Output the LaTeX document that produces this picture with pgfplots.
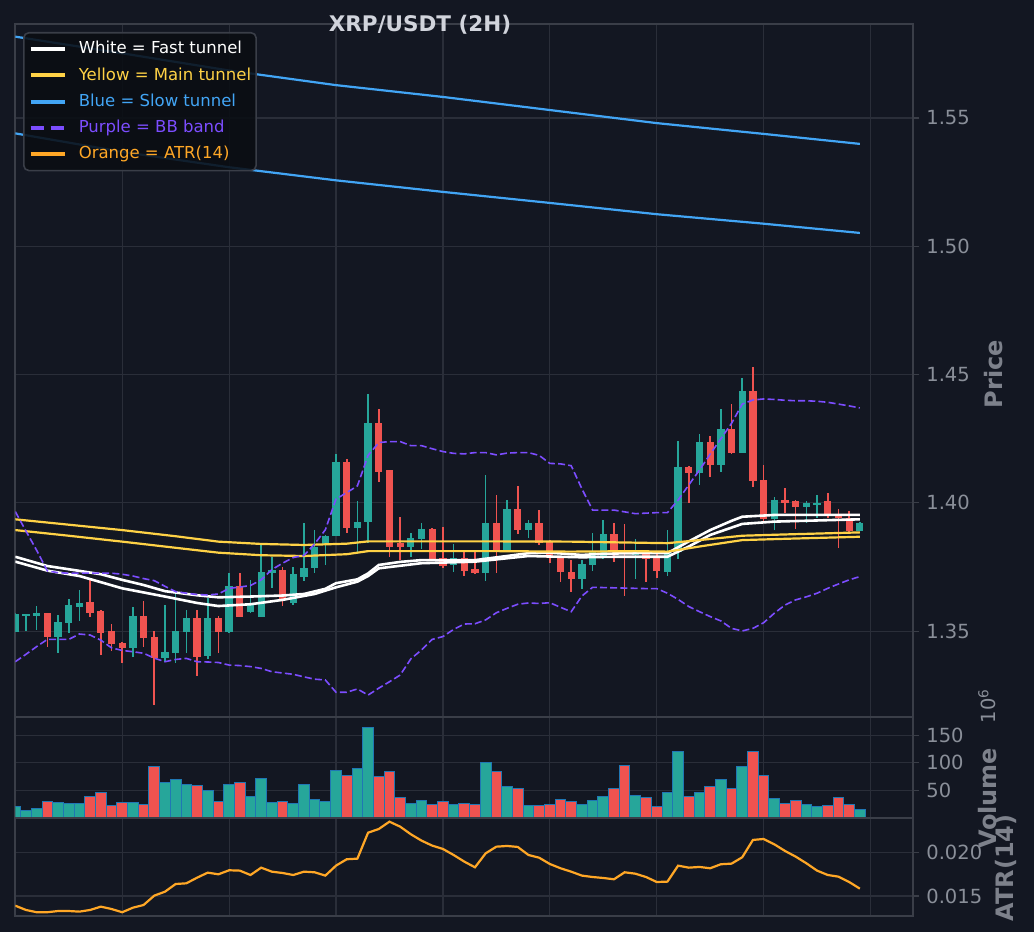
\documentclass[border=0pt]{standalone}
\usepackage{fontspec}
\setmainfont{DejaVu Sans}
\usepackage{pgfplots}
\usepackage{pgfplotstable}
\pgfplotsset{compat=1.18}
\definecolor{bg}{RGB}{19,23,34}
\definecolor{gridc}{RGB}{42,46,57}
\definecolor{spine}{RGB}{58,62,72}
\definecolor{tickc}{RGB}{138,143,153}
\definecolor{labc}{RGB}{125,129,139}
\definecolor{titc}{RGB}{209,212,220}
\definecolor{upc}{RGB}{38,166,154}
\definecolor{dnc}{RGB}{239,83,80}
\definecolor{edgec}{RGB}{31,119,180}
\definecolor{yelc}{RGB}{255,210,70}
\definecolor{bluc}{RGB}{66,165,245}
\definecolor{purc}{RGB}{124,77,255}
\definecolor{orac}{RGB}{255,167,38}
\definecolor{legbg}{RGB}{10,13,19}
\newcommand\ticksfont{\fontsize{9.75}{11}\selectfont}

\pgfplotstableread{
i o h l c v
0 1.3498 1.3570 1.3495 1.3566 21
1 1.3561 1.3567 1.3502 1.3566 14
2 1.3561 1.3598 1.3505 1.3570 18
4 1.3479 1.3563 1.3414 1.3535 28.5
5 1.3531 1.3626 1.3494 1.3601 27
6 1.3596 1.3661 1.3541 1.3609 27
11 1.3433 1.3596 1.3398 1.3559 28.5
14 1.3395 1.3602 1.3381 1.3418 64
15 1.3414 1.3648 1.3375 1.3502 70
16 1.3498 1.3583 1.3417 1.3550 61
18 1.3404 1.3628 1.3390 1.3550 50
20 1.3496 1.3726 1.3494 1.3676 61
22 1.3575 1.3700 1.3570 1.3610 39
23 1.3557 1.3836 1.3555 1.3730 71
24 1.3726 1.3790 1.3670 1.3739 28.5
26 1.3611 1.3749 1.3602 1.3722 27
27 1.3713 1.3920 1.3696 1.3748 61
28 1.3745 1.3894 1.3728 1.3829 34
29 1.3836 1.3874 1.3758 1.3872 30
30 1.3872 1.4191 1.3870 1.4161 86
32 1.3901 1.4007 1.3807 1.3927 89
33 1.3924 1.4424 1.3843 1.4310 164
37 1.3829 1.3884 1.3790 1.3862 27
38 1.3858 1.3920 1.3819 1.3897 32
41 1.3758 1.3840 1.3732 1.3784 25
44 1.3728 1.4109 1.3696 1.3920 100
46 1.3813 1.4011 1.3810 1.3975 57
48 1.3894 1.3933 1.3864 1.3923 23
53 1.3703 1.3777 1.3666 1.3761 25
54 1.3758 1.3882 1.3736 1.3807 32
55 1.3784 1.3933 1.3781 1.3878 39
58 1.3800 1.3858 1.3703 1.3805 41
61 1.3732 1.3894 1.3716 1.3804 46
62 1.3810 1.4241 1.3780 1.4139 120
64 1.4118 1.4268 1.4070 1.4236 47
66 1.4147 1.4365 1.4122 1.4287 70
68 1.4196 1.4486 1.4194 1.4437 93
71 1.3936 1.4024 1.3894 1.4010 36
74 1.3984 1.4006 1.3920 1.3998 25
75 1.3993 1.4031 1.3940 1.3999 20
79 1.3891 1.3924 1.3889 1.3920 16
}\up

\pgfplotstableread{
i o h l c v
3 1.3570 1.3572 1.3440 1.3479 30
7 1.3613 1.3700 1.3557 1.3570 39
8 1.3579 1.3583 1.3407 1.3492 46
9 1.3500 1.3528 1.3424 1.3449 23
10 1.3453 1.3457 1.3375 1.3433 28.5
12 1.3559 1.3618 1.3440 1.3472 25
13 1.3477 1.3501 1.3212 1.3397 93
17 1.3550 1.3583 1.3327 1.3401 59
19 1.3550 1.3559 1.3414 1.3496 30
21 1.3676 1.3726 1.3557 1.3557 64
25 1.3739 1.3749 1.3599 1.3624 30
31 1.4161 1.4170 1.3884 1.3903 77
34 1.4310 1.4366 1.4083 1.4119 75
35 1.4128 1.4130 1.3790 1.3829 84
36 1.3845 1.3946 1.3777 1.3829 37.5
39 1.3897 1.3901 1.3777 1.3781 25
40 1.3787 1.3906 1.3745 1.3756 30
42 1.3784 1.3807 1.3716 1.3736 27
43 1.3741 1.3807 1.3722 1.3728 25
45 1.3920 1.4031 1.3728 1.3813 84
47 1.3975 1.4066 1.3878 1.3894 53
49 1.3923 1.3972 1.3836 1.3843 23
50 1.3849 1.3855 1.3767 1.3784 25
51 1.3790 1.3792 1.3693 1.3729 34
52 1.3732 1.3777 1.3654 1.3703 30
56 1.3878 1.3920 1.3771 1.3810 53
57 1.3810 1.3917 1.3638 1.3804 95
59 1.3804 1.3810 1.3693 1.3780 37.5
60 1.3787 1.3804 1.3709 1.3736 20
63 1.4139 1.4144 1.3998 1.4118 39
65 1.4236 1.4261 1.4102 1.4147 57
67 1.4287 1.4385 1.4191 1.4196 53
69 1.4437 1.4528 1.4063 1.4085 121
70 1.4088 1.4147 1.3920 1.3936 77
72 1.4010 1.4058 1.3962 1.3999 27
73 1.4006 1.4011 1.3898 1.3984 32
76 1.4006 1.4037 1.3940 1.3949 23
77 1.3953 1.3976 1.3825 1.3940 37.5
78 1.3940 1.3968 1.3887 1.3891 25
}\dn

\pgfplotstableread{
i atr
0 0.01389
1 0.01340
2 0.01314
3 0.01314
4 0.01328
5 0.01328
6 0.01321
7 0.01340
8 0.01378
9 0.01351
10 0.01314
11 0.01366
12 0.01397
13 0.01504
14 0.01549
15 0.01637
16 0.01645
17 0.01709
18 0.01767
19 0.01748
20 0.01794
21 0.01790
22 0.01740
23 0.01824
24 0.01778
25 0.01763
26 0.01740
27 0.01778
28 0.01771
29 0.01733
30 0.01847
31 0.01920
32 0.01927
33 0.02224
34 0.02266
35 0.02350
36 0.02293
37 0.02206
38 0.02133
39 0.02076
40 0.02038
41 0.01969
42 0.01893
43 0.01828
44 0.01988
45 0.02064
46 0.02072
47 0.02061
48 0.01969
49 0.01938
50 0.01866
51 0.01817
52 0.01778
53 0.01733
54 0.01717
55 0.01706
56 0.01691
57 0.01771
58 0.01755
59 0.01717
60 0.01660
61 0.01664
62 0.01847
63 0.01824
64 0.01832
65 0.01817
66 0.01863
67 0.01870
68 0.01943
69 0.02141
70 0.02152
71 0.02091
72 0.02015
73 0.01950
74 0.01874
75 0.01790
76 0.01740
77 0.01721
78 0.01660
79 0.01584
}\atr

\pgfplotstableread{
i bbu bbl
0 1.3966 1.3381
1 1.3890 1.3410
2 1.3815 1.3440
3 1.3735 1.3468
4 1.3728 1.3468
5 1.3726 1.3468
6 1.3726 1.3489
7 1.3726 1.3485
8 1.3726 1.3465
9 1.3726 1.3435
10 1.3722 1.3425
11 1.3715 1.3420
12 1.3705 1.3414
13 1.3697 1.3395
14 1.3675 1.3381
15 1.3654 1.3390
16 1.3648 1.3394
17 1.3643 1.3381
18 1.3641 1.3380
19 1.3645 1.3378
20 1.3667 1.3368
21 1.3672 1.3366
22 1.3678 1.3362
23 1.3700 1.3355
24 1.3740 1.3342
25 1.3765 1.3337
26 1.3787 1.3332
27 1.3795 1.3322
28 1.3840 1.3313
29 1.3895 1.3310
30 1.4015 1.3262
31 1.4040 1.3262
32 1.4066 1.3275
33 1.4185 1.3251
34 1.4235 1.3278
35 1.4239 1.3303
36 1.4239 1.3329
37 1.4223 1.3392
38 1.4223 1.3427
39 1.4211 1.3468
40 1.4200 1.3479
41 1.4193 1.3507
42 1.4191 1.3528
43 1.4196 1.3529
44 1.4196 1.3544
45 1.4187 1.3572
46 1.4194 1.3589
47 1.4196 1.3605
48 1.4196 1.3610
49 1.4185 1.3608
50 1.4154 1.3611
51 1.4152 1.3593
52 1.4145 1.3576
53 1.4055 1.3637
54 1.3972 1.3671
55 1.3972 1.3670
56 1.3972 1.3669
57 1.3965 1.3668
58 1.3958 1.3667
59 1.3960 1.3666
60 1.3962 1.3666
61 1.3962 1.3648
62 1.4011 1.3624
63 1.4070 1.3596
64 1.4128 1.3576
65 1.4190 1.3557
66 1.4250 1.3540
67 1.4310 1.3511
68 1.4385 1.3501
69 1.4401 1.3511
70 1.4405 1.3533
71 1.4403 1.3570
72 1.4400 1.3602
73 1.4398 1.3622
74 1.4398 1.3634
75 1.4396 1.3648
76 1.4392 1.3667
77 1.4385 1.3684
78 1.4378 1.3700
79 1.4370 1.3713
}\bb

\pgfplotsset{
  base/.style={
    scale only axis, width=449pt, anchor=south west,
    xmin=0, xmax=84,
    xtick={10,20,30,40,50,60,70,80}, xticklabels={},
    xmajorticks=false,
    xmajorgrids, ymajorgrids,
    grid style={draw=gridc, line width=0.6pt},
    axis line style={draw=spine, line width=1pt},
    ytick pos=right, yticklabel pos=right,
    tick align=outside,
    major tick length=3pt,
    ytick style={draw=spine, line width=0.6pt},
    yticklabel style={font=\ticksfont, text=tickc},
    /pgf/number format/assume math mode=true,
    scaled y ticks=false,
  },
  wick/.style={forget plot, draw=none, mark=none,
    error bars/.cd, y dir=both, y explicit, error mark=none,
    error bar style={draw=#1, line width=0.8pt, line cap=butt}},
  body/.style={forget plot, draw=none, mark=none,
    error bars/.cd, y dir=both, y explicit, error mark=none,
    error bar style={draw=#1, line width=3.65pt, line cap=butt}},
}

\begin{document}
\begin{tikzpicture}[x=1pt,y=1pt]
\path[fill=bg, use as bounding box] (0,0) rectangle (517,466);

% ---------------- price panel
\begin{axis}[base, at={(7.65pt,107.5pt)}, height=346.5pt,
  ymin=1.31656, ymax=1.58663,
  ytick={1.35,1.4,1.45,1.5,1.55},
  yticklabel style={/pgf/number format/.cd, fixed, fixed zerofill, precision=2},
  legend style={at={(0.0086,0.9885)}, anchor=north west, fill=legbg,
    fill opacity=0.88, text opacity=1, draw=spine, line width=0.8pt,
    rounded corners=2.5pt, font=\fontsize{8.25}{9.9}\selectfont,
    inner xsep=2.5pt, inner ysep=3.5pt, row sep=3.85pt, column sep=6pt,
    nodes={inner sep=0pt, text height=7pt, text depth=2.3pt}},
  legend cell align=left,
  legend image post style={line width=1.9pt},
]
\addplot[wick=upc] table[x=i, y expr={(\thisrow{h}+\thisrow{l})/2}, y error expr={(\thisrow{h}-\thisrow{l})/2}] {\up};
\addplot[wick=dnc] table[x=i, y expr={(\thisrow{h}+\thisrow{l})/2}, y error expr={(\thisrow{h}-\thisrow{l})/2}] {\dn};
\addplot[body=upc] table[x=i, y expr={(\thisrow{o}+\thisrow{c})/2}, y error expr={max(abs(\thisrow{c}-\thisrow{o})/2,0.00012)}] {\up};
\addplot[body=dnc] table[x=i, y expr={(\thisrow{o}+\thisrow{c})/2}, y error expr={max(abs(\thisrow{c}-\thisrow{o})/2,0.00012)}] {\dn};

% white fast tunnel
\addplot[white, line width=1.3pt] coordinates {(0,1.3790)(3,1.3754)(6,1.3735)(8,1.3722)(10,1.3700)(12,1.3680)(14,1.3656)(17,1.3640)(19,1.3632)(22,1.3635)(25,1.3639)(27,1.3645)(29,1.3665)(30,1.3687)(32,1.3702)(33,1.3725)(34,1.3758)(36,1.3770)(38,1.3777)(43,1.3777)(46,1.3793)(48,1.3804)(50,1.3806)(53,1.3797)(55,1.3802)(58,1.3804)(61,1.3804)(63,1.3850)(65,1.3894)(67,1.3930)(68,1.3946)(71,1.3953)(79,1.3953)};
\addlegendentry{\textcolor{white}{White = Fast tunnel}}
\addplot[forget plot, white, line width=1.3pt] coordinates {(0,1.3771)(3,1.3736)(6,1.3715)(10,1.3667)(14,1.3635)(17,1.3610)(19,1.3598)(22,1.3605)(25,1.3622)(28,1.3645)(30,1.3671)(32,1.3693)(33,1.3715)(34,1.3745)(38,1.3765)(43,1.3771)(48,1.3793)(53,1.3788)(56,1.3790)(61,1.3790)(63,1.3830)(65,1.3875)(68,1.3918)(71,1.3927)(79,1.3936)};

% yellow main tunnel
\addplot[yelc, line width=1.1pt] coordinates {(0,1.3936)(5,1.3915)(10,1.3894)(15,1.3870)(19,1.3849)(23,1.3840)(27,1.3836)(31,1.3841)(33,1.3850)(45,1.3850)(52,1.3849)(58,1.3845)(61,1.3843)(64,1.3855)(68,1.3872)(72,1.3877)(79,1.3885)};
\addlegendentry{\textcolor{yelc}{Yellow = Main tunnel}}
\addplot[forget plot, yelc, line width=1.1pt] coordinates {(0,1.3894)(5,1.3872)(10,1.3849)(15,1.3825)(19,1.3806)(23,1.3796)(27,1.3793)(31,1.3800)(33,1.3812)(45,1.3812)(52,1.3810)(58,1.3812)(61,1.3810)(64,1.3830)(68,1.3855)(72,1.3860)(79,1.3868)};

% blue slow tunnel
\addplot[bluc, line width=1.1pt] coordinates {(0,1.5817)(10,1.5752)(20,1.5685)(30,1.5628)(40,1.5582)(50,1.5531)(60,1.5480)(70,1.5438)(79,1.5399)};
\addlegendentry{\textcolor{bluc}{Blue = Slow tunnel}}
\addplot[forget plot, bluc, line width=1.1pt] coordinates {(0,1.5440)(10,1.5368)(20,1.5308)(30,1.5257)(40,1.5212)(50,1.5169)(60,1.5125)(70,1.5088)(79,1.5052)};

% purple BB band
\addplot[purc, line width=0.8pt, dash pattern=on 3.5pt off 1.6pt,
  legend image post style={line width=1.9pt, dash pattern=on 6.5pt off 3.5pt}] table[x=i, y=bbu] {\bb};
\addlegendentry{\textcolor{purc}{Purple = BB band}}
\addplot[forget plot, purc, line width=0.8pt, dash pattern=on 3.5pt off 1.6pt] table[x=i, y=bbl] {\bb};

\addlegendimage{orac, line width=1.9pt}
\addlegendentry{\textcolor{orac}{Orange = ATR(14)}}
\end{axis}

% ---------------- volume panel
\begin{axis}[base, at={(7.65pt,57pt)}, height=50.5pt,
  ymin=0, ymax=183, ytick={50,100,150},
]
\addplot[ybar, bar width=1, bar shift=0pt, fill=upc, draw=edgec, line width=0.5pt] table[x=i, y=v] {\up};
\addplot[ybar, bar width=1, bar shift=0pt, fill=dnc, draw=edgec, line width=0.5pt] table[x=i, y=v] {\dn};
\end{axis}

% ---------------- ATR panel
\begin{axis}[base, at={(7.65pt,8pt)}, height=49pt,
  ymin=0.01271, ymax=0.02392, ytick={0.015,0.020},
  yticklabel style={/pgf/number format/.cd, fixed, fixed zerofill, precision=3},
]
\addplot[orac, line width=1.1pt] table[x=i, y=atr] {\atr};
\end{axis}

\node[font=\bfseries\fontsize{10.75}{12}\selectfont, text=titc, anchor=base] at (210,450.15) {XRP/USDT (2H)};
\node[rotate=90, font=\bfseries\fontsize{12}{14}\selectfont, text=labc] at (497,279) {Price};
\node[rotate=90, font=\bfseries\fontsize{12}{14}\selectfont, text=labc] at (494,67) {Volume};
\node[rotate=90, font=\bfseries\fontsize{12}{14}\selectfont, text=labc] at (503,32) {ATR(14)};
\node[rotate=90, font=\ticksfont, text=tickc] at (493.5,113) {10\textsuperscript{6}};
\end{tikzpicture}
\end{document}
